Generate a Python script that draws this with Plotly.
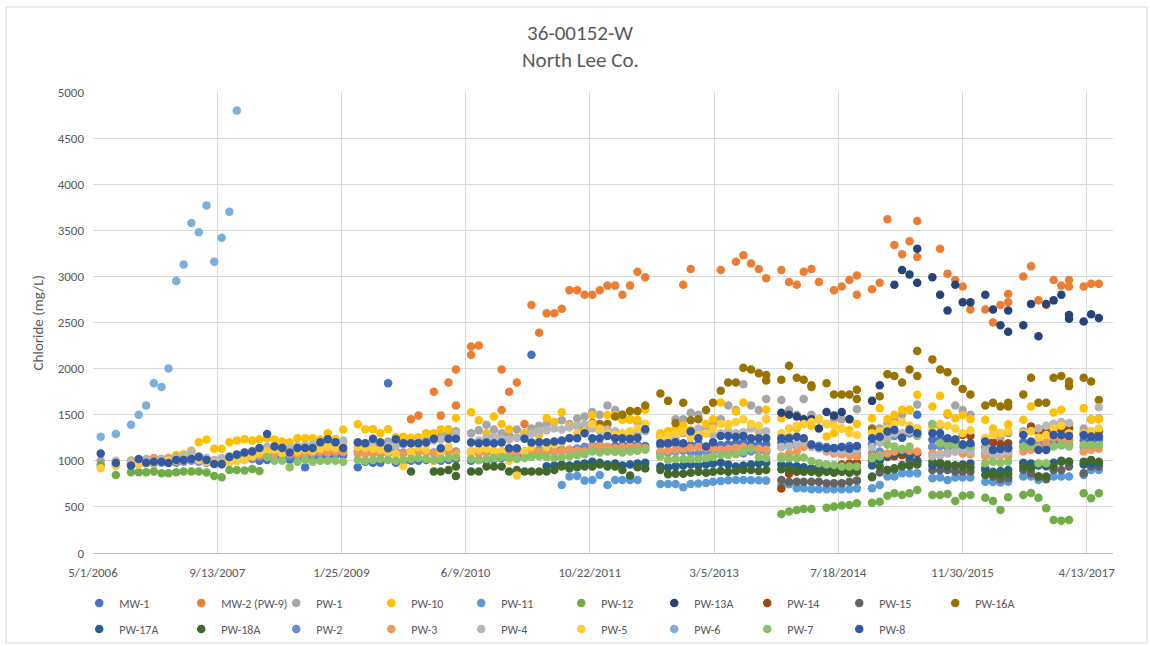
import pandas as pd
import plotly.graph_objects as go

N = None

# Monthly chloride results (mg/L). Each series is a list of (first month, values);
# None = month not sampled, a tuple = two samples reported in the same month.
MW1 = [("2008-03", [1000, 1010, 1020, 1030, 1010, 1020, 930, 1020, 1040, 1050, 1060, 1060, N,
                    930, 990, 980, 980, 1840, 980, 980, 1000, 1000, 1010, 1000, 1000, 1010, 1020, N,
                    1000, 1010, 1000, 1020, 1030, 1020, 1040, 1060, 2150, 1080, 1100, 1100, 1120, 1110,
                    1130, 1150, 1160, 1170, 1150, 1160, 1170, 1180, 1170, 1160, N,
                    1170, 1180, 1190, 1160, 1170, 1180, 1150, 1160, 1170, 1180, 1190, 1200, 1180, 1170, 1180, N,
                    1200, 1190, 1180, 1200, 1170, 1160, 1150, 1140, 1150, 1160, 1150, N,
                    1180, 1200, 1250, 1300, 1280, 1300, 1500, N,
                    1230, 1240, 1220, 1200, 1180, 1170, N,
                    1150, 1120, 1130, 1140, N,
                    1200, 1180, 1150, 1140, 1200, 1220, 1230, N,
                    1220, 1210, 1230])]

MW2 = [("2009-11", [1450, 1490, N, 1750, 1490, 1850, (1990, 1600), N, (2150, 2240), 2250, N, N,
                    (1550, 1990), 1750, 1850, 1400, 2690, 2390, 2600, 2600, 2650, 2850, 2850, 2800, 2800,
                    2850, 2900, 2900, 2800, 2900, 3050, 2990, N, N, N, N, 2910, 3080, N, N, N, 3070, N,
                    3160, 3230, 3140, 3080, 2980, N, 3070, 2940, 2910, 3050, 3080, 2940, N, 2850, 2890,
                    2960, (3010, 2800), N, 2860, 2930, 3620, 3340, 3240, 3380, (3600, 3210), N, N,
                    3300, 3030, 2960, 2890, 2640, N, 2640, 2500, 2690, (2720, 2810), N,
                    3000, 3110, 2740, 2690, 2960, 2900, (2960, 2890), N, 2890, 2920, 2920])]

PW1 = [("2006-06", [1000, N, 990, N,
                    1000, 1010, 1000, 1020, 1010, 1030, 1040, 1060, 1110, 1050, 1020, 1000, 1020, 1040,
                    1060, 1080, 1100, 1130, 1150, 1160, 1140, 1130, 1150, 1160, 1170, 1180, 1190, 1200, 1210, N,
                    1200, 1190, 1180, 1200, 1210, 1220, 1200, 1190, 1210, 1220, 1250, 1280, 1300, 1320, N,
                    1300, 1330, 1390, 1340, 1300, 1280, 1340, 1300, 1350, 1380, 1400, 1420, 1440, 1400,
                    1460, 1480, 1530, 1500, 1600, 1550, 1500, 1450, 1420, 1400, N,
                    1270, 1300, 1450, 1450, 1520, 1500, 1350, 1400, 1450, 1600, 1550, 1830, 1600, 1550, 1670, N,
                    1660, 1550, 1500, 1670, 1500, 1450, 1400, 1450, 1450, 1450, 1560, N,
                    1300, 1350, 1400, 1450, 1500, 1550, 1610, N,
                    1400, 1380, 1500, 1600, 1550, 1500, N,
                    1150, 1200, 1250, 1300, N,
                    1320, 1330, 1300, 1350, 1400, 1380, 1400, N,
                    1350, 1450, 1460])]

PW10 = [("2006-10", [970, 980, 990, 980, 1000, 1010, 1064, 1070, 1100, 1200, 1230, 1130, 1130, 1200,
                     1220, 1235, 1220, 1235, 1245, 1230, 1210, 1200, 1245, 1245, 1245, 1230, 1300, 1235, 1340, N,
                     1397, 1343, 1343, 1300, 1343, 1256, 1260, 1250, 1256, 1300, 1300, 1343, 1343, 1465, N,
                     1527, 1440, 1300, 1480, 1400, 1343, 1256, 1300, 1300, 1280, 1465, 1420, 1527, 1380,
                     1375, 1350, 1498, 1354, 1498, 1498, 1444, 1444, 1444, 1553, N,
                     1300, 1320, 1350, 1380, 1335, 1300, 1400, 1450, 1632, 1397, 1534, 1632, 1390, 1306,
                     (1553, 1451), N,
                     1462, 1263, 1350, 1400, 1379, 1444, 1263, 1300, 1350, 1335, 1400, N,
                     1462, 1571, 1450, 1500, 1553, 1553, 1716, N,
                     1589, 1705, 1517, 1462, 1498, 1450, N,
                     1444, 1350, 1300, 1397, N,
                     1444, 1589, 1350, 1300, 1523, 1553, 1400, N,
                     1571, 1444, 1451])]

PW11 = [("2011-07", [738, 829, 836, 785, 793, 847, 738, 793, 793, 793, 793, 920, N,
                     749, 749, 749, 713, 749, 755, 760, 774, 780, 790, 793, 793, 790, 790, 785, N,
                     738, 745, 702, 702, 691, 691, 691, 691, 691, 691, 700, N,
                     702, 738, 829, 829, 865, 865, 865, N,
                     811, 820, 793, 820, 820, 820, N,
                     774, 770, 765, 774, N,
                     829, 829, 793, 810, 829, 829, 829, N,
                     847, 901, 901])]

PW12 = [("2006-06", [955, N, 847, N, 876, 876, 876, 883, 865, 865, 876, 883, 883, 883, 873, 836,
                     822, 901, 901, 894, 912, 890]),
        ("2013-12", [423, 449, 467, 478, 478, N, 492, 503, 514, 521, 540, N,
                     546, 557, 622, 648, 630, 648, 684, N,
                     630, 630, 641, 565, 622, 630, N,
                     600, 565, 467, 605, N,
                     630, 650, 600, 485, 358, 351, 358, N,
                     648, 594, 648])]

PW13A = [("2013-12", [1520, 1500, 1480, 1450, 1450, 1350, 1530, 1490, 1530, 1450, N, N,
                      1650, 1820, N, 2910, 3070, 3020, (3300, 2930), N,
                      2990, 2800, 2630, 2910, 2720, 2720, N,
                      2800, 2640, 2470, (2400, 2630), N,
                      2470, 2700, 2350, 2700, 2740, 2800, (2580, 2540), N,
                      2510, 2590, 2550])]

PW14 = [("2013-12", [700, 860, 880, 900, 910, 937, 950, 940, 960, 970, 980, N,
                     1000, 1020, 1040, 1050, 1060, 1070, 1080, N,
                     1150, 1180, 1200, 1230, 1281, 1270, N,
                     1227, 1200, 1180, 1190, N,
                     1300, 1372, 1330, 1320, 1335, 1343, 1354, N,
                     1300, 1310, 1317])]

PW15 = [("2013-12", [793, 774, 774, 774, 774, 774, 756, 756, 756, 774, 785, N,
                     822, 872, 901, 908, 955, 1010, 991, N,
                     901, 901, 901, 883, 883, 883, N,
                     920, 829, 800, 811, N,
                     901, 865, 829, 800, 901, 901, 937, N,
                     865, 937, 937])]

PW16A = [("2011-10", [1340, 1410, 1400, 1400, 1480, 1500, 1540, 1540, 1600, N,
                      1730, 1650, 1410, 1630, 1440, 1450, 1550, 1630, 1760, 1850, 1850, 2010, 1990, 1950,
                      (1930, 1870), N,
                      1880, 2030, 1900, 1880, (1820, 1800), N, 1840, 1720, 1720, 1720, (1770, 1670), N,
                      1350, 1700, 1940, 1920, 1850, 1990, (2190, 1920), N,
                      2100, 1990, 1960, 1860, 1780, 1720, N,
                      1600, 1630, 1590, (1590, 1630), N,
                      1720, 1900, 1630, 1630, 1900, 1920, (1860, 1810), N,
                      1900, 1860, 1660])]

PW17A = [("2011-05", [940, 950, 960, 950, 960, 970, 991, 980, 960, 970, 950, 960, 970, 980, N,
                      937, 930, 940, 950, 960, 950, 960, 970, 980, 960, 937, 950, 960, 970, 980, N,
                      960, 950, 940, 930, 920, 910, 900, 910, 920, 910, 900, N,
                      950, 1000, 1050, 1080, 1100, 1050, 1000, N,
                      950, 960, 940, 950, 960, 970, N,
                      900, 880, 890, 900, N,
                      980, 970, 950, 940, 980, 1000, 990, N,
                      960, 970, 980])]

PW18A = [("2009-11", [883, N, N, 883, 883, 900, (937, 836), N,
                      883, 883, 937, 937, 937, 883, 900, 883, 883, 883, 883, 900, 937, 920, 930, 937,
                      937, 960, 937, 937, 900, 840, 930, 920, N,
                      901, 854, 860, 860, 870, 880, 870, 880, 890, 880, 890, 901, 901, 890, 901, N,
                      908, 900, 890, 880, 880, 870, 880, 870, 880, 870, 880, N,
                      829, 937, 900, 920, 940, 950, 960, N,
                      991, 980, 960, 950, 940, 930, N,
                      847, 860, 850, 860, N,
                      937, 920, 829, 829, 937, 991, 991, N,
                      991, 1010, 990])]

PW2 = [("2006-08", [950, N,
                    960, 970, 980, 970, 980, 990, 980, 990, 1000, 990, 980, 970, 960, 990, 1000, 1010,
                    1020, 1040, 1060, 1050, 1060, 1050, 1070, 1060, 1070, 1080, 1090, 1080, 1090, N,
                    1100, 1090, 1100, 1080, 1090, 1100, 1090, 1100, 1110, 1100, 1090, 1100, 1110, 1100, N,
                    1100, 1110, 1100, 1090, 1100, 1110, 1120, 1100, 1110, 1120, 1130, 1120, 1110, 1120,
                    1130, 1140, 1130, 1120, 1110, 1100, 1120, 1130, 1140, 1130, N,
                    1080, 1090, 1100, 1110, 1090, 1080, 1100, 1110, 1120, 1100, 1090, 1080, 1100, 1110, 1100, N,
                    1150, 1160, 1170, 1200, 1180, 1160, 1140, 1120, 1100, 1090, 1080, N,
                    1080, 1100, 1250, 1270, 1290, 1300, 1320, N,
                    1150, 1160, 1140, 1170, 1150, 1130, N,
                    1080, 1090, 1100, 1090, N,
                    1150, 1180, 1200, 1180, 1160, 1170, 1180, N,
                    1150, 1160, 1170])]

PW3 = [("2006-08", [990, N,
                    1000, 1010, 1020, 1030, 1020, 1030, 1040, 1020, 1030, 1010, 990, 980, 990, 1000,
                    1010, 1020, 1040, 1060, 1100, 1080, 1090, 1080, 1070, 1080, 1090, 1100, 1090, 1100, 1100, N,
                    1080, 1070, 1080, 1090, 1080, 1070, 1080, 1090, 1100, 1090, 1080, 1090, 1100, 1090, N,
                    1090, 1080, 1090, 1100, 1090, 1080, 1090, 1100, 1110, 1100, 1090, 1100, 1110, 1120,
                    1110, 1100, 1150, 1160, 1150, 1140, 1150, 1160, 1150, 1140, N,
                    1100, 1110, 1120, 1130, 1140, 1150, 1140, 1130, 1120, 1130, 1140, 1150, 1140, 1130, 1120, N,
                    1050, 1080, 1100, 1150, 1160, 1150, 1100, 1080, 1070, 1060, 1050, N,
                    1050, 1060, 1080, 1100, 1120, 1110, 1100, N,
                    1080, 1070, 1090, 1100, 1080, 1070, N,
                    1050, 1040, 1060, 1050, N,
                    1100, 1120, 1150, 1200, 1250, 1230, 1220, N,
                    1100, 1120, 1130])]

PW4 = [("2006-08", [1000, N,
                    990, 1000, 1010, 1000, 1020, 1010, 1030, 1050, 1090, 1040, 1030, 1010, 1030, 1050,
                    1070, 1090, 1110, 1120, 1140, 1150, 1150, 1140, 1160, 1170, 1180, 1170, 1190, 1200, 1220, N,
                    1150, 1160, 1170, 1180, 1160, 1170, 1180, 1190, 1200, 1210, 1220, 1230, 1240, 1300, N,
                    1200, 1220, 1250, 1260, 1240, 1230, 1250, 1260, 1300, 1320, 1330, 1350, 1340, 1360,
                    1380, 1400, 1350, 1330, 1340, 1320, 1300, 1280, 1300, 1320, N,
                    1200, 1220, 1250, 1300, 1320, 1350, 1300, 1280, 1300, 1320, 1300, 1310, 1350, 1330, 1320, N,
                    1150, 1160, 1180, 1200, 1150, 1130, 1120, 1100, 1110, 1100, 1120, N,
                    1150, 1200, 1250, 1300, 1300, 1320, 1350, N,
                    1050, 1060, 1080, 1100, 1120, 1100, N,
                    1100, 1050, 1080, 1100, N,
                    1300, 1320, 1350, 1380, 1400, 1420, 1410, N,
                    1300, 1320, 1580])]

PW5 = [("2006-06", [920, N, 950, N,
                    960, 960, 970, 980, 990, 1000, 1000, 1010, 1020, 1010, 990, 980, 970, 990, 1000,
                    1010, 1050, 1080, 1100, 1120, 1080, 1090, 1100, 1120, 1110, 1130, 1150, 1140, 1150, N,
                    1150, 1140, 1130, 1120, 1100, 1080, 940, 1100, 1150, 1120, 1000, 1100, 1150, 1050, N,
                    1100, 1120, 1130, 1110, 1100, 1000, 840, 1100, 1150, 1200, 1150, 1180, 1200, 1250,
                    1300, 1320, 1400, 1350, 1300, 1280, 1300, 1320, 1350, 1400, N,
                    1250, 1280, 1300, 1320, 1250, 1280, 1300, 1350, 1400, 1380, 1420, 1450, 1400, 1380, 1450, N,
                    1300, 1350, 1380, 1400, 1420, 1450, 1400, 1380, 1350, 1300, 1280, N,
                    1300, 1320, 1350, 1400, 1420, 1380, 1350, N,
                    1350, 1400, 1380, 1350, 1300, 1330, N,
                    1250, 1280, 1300, 1320, N,
                    1300, 1320, 1250, 1280, 1350, 1380, 1300, N,
                    1300, 1320, 1350])]

PW6 = [("2006-06", [1260, N, 1290, N, 1390, 1500, 1600, 1840, 1800, 2000, 2950, 3130, 3580, 3480,
                    3770, 3160, 3420, 3700, 4800])]

PW7 = [("2008-04", [1040, 1000, 1000, 930, 990, 1010, 990, 1000, 1000, 1000, 990, N,
                    1010, 1000, 1010, 1020, 1010, 1000, 1010, 1020, 1030, 1020, 1010, 1020, 1030, 1040, N,
                    1020, 1010, 1020, 1030, 1040, 1030, 1020, 1030, 1040, 1050, 1040, 1030, 1040, 1050,
                    1060, 1070, 1100, 1090, 1100, 1100, 1090, 1100, 1110, 1120, N,
                    1046, 1010, 1020, 1020, 1020, 1020, 1030, 1040, 1064, 1064, 1070, 1100, 1127, 1040, 1030, N,
                    1028, 1028, 1028, 1035, 999, 974, 960, 955, 937, 937, 937, N,
                    1028, 1046, 1173, 1155, 1127, 1155, 1270, N,
                    1397, 1191, 1173, 1173, 1173, 1155, N,
                    974, 991, 980, 991, N,
                    1155, 1160, 974, 974, 1155, 1173, 1155, N,
                    1173, 1173, 1173])]

PW8 = [("2006-06", [1080, N, 975, N,
                    950, 1020, 980, 990, 990, 975, 1010, 1010, 1020, 1040, 1010, 965, 965, 1040, 1065,
                    1090, 1100, 1140, 1290, 1155, 1140, 1090, 1140, 1140, 1140, 1200, 1235, 1200, 1140, N,
                    1198, 1190, 1240, 1198, 1137, 1234, 1190, 1190, 1190, 1198, 1240, 1137, 1240, 1240, N,
                    1198, 1190, 1198, 1190, 1198, 1137, 1137, 1240, 1198, 1200, 1200, 1210, 1220, 1245,
                    1245, 1300, 1245, 1245, 1270, 1245, 1245, 1240, 1250, 1343, N,
                    1191, 1191, 1200, 1191, 1317, 1245, 1155, 1200, 1270, 1270, 1260, 1270, 1245, 1245, 1245, N,
                    1245, 1245, 1260, 1245, 1173, 1150, 1137, 1137, 1150, 1130, 1160, N,
                    1245, 1260, 1317, 1335, 1250, 1340, 1300, N,
                    1300, 1300, 1245, 1230, 1173, 1191, N,
                    1209, 1118, 1127, 1137, N,
                    1281, 1209, 1118, 1118, 1281, 1281, 1270, N,
                    1281, 1263, 1263])]

WELLS = ["MW-1", "MW-2 (PW-9)", "PW-1", "PW-10", "PW-11", "PW-12", "PW-13A", "PW-14", "PW-15",
         "PW-16A", "PW-17A", "PW-18A", "PW-2", "PW-3", "PW-4", "PW-5", "PW-6", "PW-7", "PW-8"]
SERIES = [MW1, MW2, PW1, PW10, PW11, PW12, PW13A, PW14, PW15, PW16A, PW17A, PW18A,
          PW2, PW3, PW4, PW5, PW6, PW7, PW8]
COLORS = ["#4472C4", "#ED7D31", "#A5A5A5", "#FFC000", "#5B9BD5", "#70AD47", "#264478", "#9E480E",
          "#636363", "#997300", "#255E91", "#43682B", "#698ED0", "#F1975A", "#B7B7B7", "#FFCD33",
          "#7CAFDD", "#8CC168", "#335AA1"]

TICK_DATES = ["2006-05-01", "2007-09-13", "2009-01-25", "2010-06-09", "2011-10-22",
              "2013-03-05", "2014-07-18", "2015-11-30", "2017-04-13"]
TICK_TEXT = ["5/1/2006", "9/13/2007", "1/25/2009", "6/9/2010", "10/22/2011",
             "3/5/2013", "7/18/2014", "11/30/2015", "4/13/2017"]

# legend column widths (px of text room per entry), shared by both legend rows
LEGEND_COLS = [57, 50, 50, 45, 55, 48, 48, 47, 51, 50]


def expand(segments):
    xs, ys = [], []
    for start, vals in segments:
        t0 = pd.Timestamp(start + "-01")
        for i, v in enumerate(vals):
            if v is None:
                continue
            d = t0 + pd.DateOffset(months=i)
            for val in (v if isinstance(v, tuple) else (v,)):
                xs.append(d)
                ys.append(val)
    return xs, ys


FONT = "Carlito, Calibri, Lato, sans-serif"
TXT = "#595959"
GRID = "#D9D9D9"

fig = go.Figure()
for k, (name, seg, col) in enumerate(zip(WELLS, SERIES, COLORS)):
    xs, ys = expand(seg)
    fig.add_trace(go.Scatter(
        x=xs, y=ys, mode="markers", name=name,
        marker=dict(color=col, size=8.5, line=dict(width=0)),
        legend="legend" if k < 10 else "legend2",
        legendwidth=LEGEND_COLS[k % 10],
    ))

leg_common = dict(orientation="h", xanchor="left", yanchor="middle",
                  font=dict(family=FONT, size=12, color=TXT),
                  bgcolor="rgba(0,0,0,0)", itemclick=False)

fig.update_layout(
    width=1150, height=646,
    margin=dict(l=93, r=37, t=92, b=93, autoexpand=False),
    paper_bgcolor="white", plot_bgcolor="white",
    font=dict(family=FONT, color=TXT),
    showlegend=True,
    legend=dict(x=-0.0135, y=-0.1085, **leg_common),
    legend2=dict(x=-0.0135, y=-0.1649, **leg_common),
    xaxis=dict(type="date", range=["2006-05-01", "2017-07-28"],
               tickvals=TICK_DATES, ticktext=TICK_TEXT,
               showgrid=True, gridcolor=GRID, gridwidth=1,
               showline=True, linecolor="#BFBFBF", linewidth=1,
               ticks="", zeroline=False,
               tickfont=dict(family=FONT, size=13, color=TXT), ticklabelstandoff=7),
    yaxis=dict(range=[0, 5000], dtick=500, tick0=0,
               showgrid=True, gridcolor=GRID, gridwidth=1,
               showline=False, ticks="", zeroline=False,
               tickfont=dict(family=FONT, size=13, color=TXT), ticklabelstandoff=8),
    annotations=[
        dict(text="36-00152-W", x=0.4775, y=1.128, xref="paper", yref="paper",
             xanchor="center", yanchor="middle",
             showarrow=False, font=dict(family=FONT, size=21, color=TXT)),
        dict(text="North Lee Co.", x=0.4775, y=1.0694, xref="paper", yref="paper",
             xanchor="center", yanchor="middle",
             showarrow=False, font=dict(family=FONT, size=21, color=TXT)),
        dict(text="Chloride (mg/L)", x=-0.054, y=0.5, xref="paper", yref="paper",
             xanchor="center", yanchor="middle",
             textangle=-90, showarrow=False, font=dict(family=FONT, size=15, color=TXT)),
    ],
    shapes=[dict(type="rect", xref="paper", yref="paper",
                 x0=-0.0853, x1=1.0333, y0=-0.1952, y1=1.1844,
                 line=dict(color=GRID, width=1), fillcolor="rgba(0,0,0,0)", layer="below")],
)

fig.write_html("out.html")
